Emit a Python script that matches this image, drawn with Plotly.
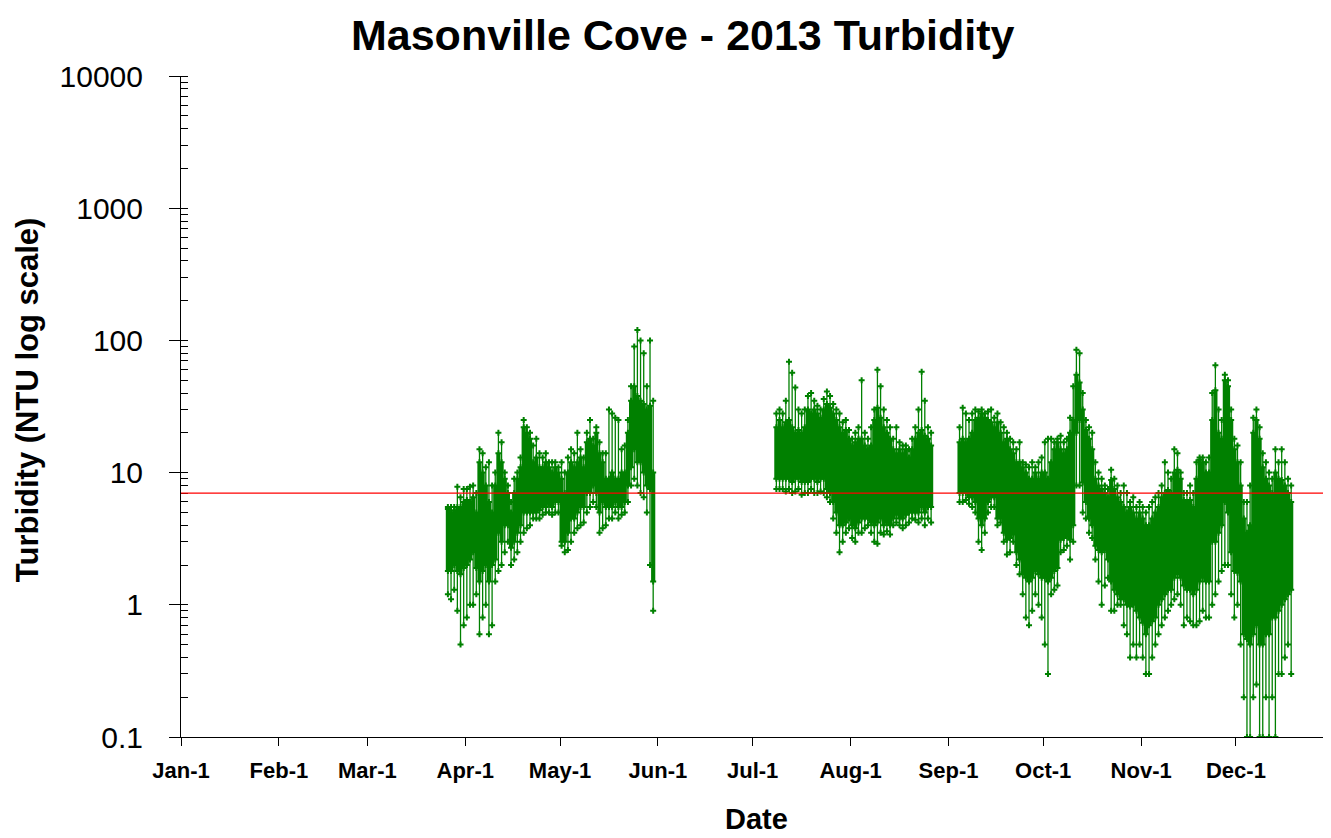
import pandas as pd
import plotly.graph_objects as go

TITLE = "Masonville Cove - 2013 Turbidity"
Y_TITLE = "Turbidity (NTU log scale)"
X_TITLE = "Date"
THRESHOLD = 7.0

MONTH_TICKS = ["2013-01-01", "2013-02-01", "2013-03-01", "2013-04-01", "2013-05-01", "2013-06-01",
               "2013-07-01", "2013-08-01", "2013-09-01", "2013-10-01", "2013-11-01", "2013-12-01"]
MONTH_LABELS = ["Jan-1", "Feb-1", "Mar-1", "Apr-1", "May-1", "Jun-1",
                "Jul-1", "Aug-1", "Sep-1", "Oct-1", "Nov-1", "Dec-1"]
Y_TICKS = [0.1, 1, 10, 100, 1000, 10000]
Y_LABELS = ["0.1", "1", "10", "100", "1000", "10000"]

# ---- Daily readings (min, dense-low, dense-high, max) ----
SEG1_START = "2013-03-26"
SEG1_LO = [1.2, 1.1, 1.3, 0.9, 0.5, 0.7, 0.8, 1.0, 1.0, 1.2,
           0.6, 0.8, 1.0, 0.6, 0.7, 1.5, 1.8, 2.0, 2.5, 3.0,
           2.0, 2.2, 2.5, 3.0, 3.5, 3.8, 4.0, 4.5, 4.5, 4.5,
           4.8, 5.0, 5.0, 4.8, 5.0, 5.0, 2.8, 2.5, 2.6, 3.0,
           3.5, 3.8, 4.0, 4.2, 5.0, 5.5, 6.0, 5.5, 3.5, 3.8,
           4.0, 4.5, 4.5, 5.0, 4.5, 4.8, 5.0, 6.0, 8.0, 9.0,
           8.0, 7.0, 6.5, 5.0, 2.0, 0.9]
SEG1_QLO = [1.8, 1.8, 2.0, 1.8, 1.7, 1.9, 2.0, 2.2, 2.5, 1.9,
            1.5, 1.8, 2.0, 1.5, 2.0, 2.2, 3.5, 3.0, 4.0, 4.0,
            2.7, 3.0, 3.5, 4.0, 5.0, 5.0, 5.0, 5.0, 5.0, 5.2,
            5.5, 5.5, 5.8, 5.5, 6.0, 6.0, 3.0, 3.0, 3.5, 4.5,
            4.5, 5.0, 5.5, 5.5, 7.0, 7.0, 8.0, 7.0, 5.0, 6.0,
            5.5, 5.5, 5.5, 6.0, 5.5, 5.5, 6.0, 8.0, 11, 15,
            12, 12, 10, 8.0, 7.5, 1.5]
SEG1_QHI = [5.3, 5.0, 5.2, 5.5, 5.5, 6.0, 6.2, 6.0, 6.5, 5.0,
            12, 10, 8.0, 6.0, 5.0, 8.0, 14, 12, 9.0, 7.0,
            5.0, 7.0, 9.0, 11, 22, 20, 18, 12, 13, 11,
            11, 12, 11, 10, 11, 10, 9.0, 7.0, 10, 12,
            11, 12, 13, 11, 17, 18, 16, 20, 14, 12,
            9.0, 9.0, 10, 9.0, 9.0, 10, 10, 20, 35, 45,
            38, 35, 33, 30, 32, 10]
SEG1_HI = [5.5, 5.5, 5.5, 7.8, 6.5, 7.5, 7.5, 7.8, 8.0, 7.0,
           15, 14, 11, 12, 8.0, 10, 20, 17, 10, 8.0,
           6.0, 9.0, 10, 13, 25, 22, 20, 16, 18, 14,
           13, 14, 12, 12, 12, 11, 12, 10, 13, 15,
           14, 20, 15, 13, 20, 25, 18, 22, 17, 14,
           14, 30, 28, 26, 25, 15, 16, 25, 45, 90,
           120, 100, 80, 45, 100, 35]

SEG2_START = "2013-07-08"
SEG2_LO = [7.5, 7.5, 7.5, 7.2, 7.5, 7.0, 7.2, 7.5, 6.8, 7.0,
           7.0, 7.5, 7.0, 7.0, 7.2, 7.0, 6.5, 6.0, 4.5, 3.5,
           2.5, 3.0, 3.5, 3.8, 3.2, 3.0, 3.5, 3.5, 3.8, 4.0,
           3.5, 3.0, 2.9, 3.5, 3.4, 3.6, 3.4, 4.0, 4.2, 4.0,
           3.8, 4.0, 4.2, 4.5, 4.4, 4.2, 4.5, 4.0, 4.5, 4.2]
SEG2_QLO = [9, 9, 9, 9, 9, 8.5, 9, 9, 8.5, 8.5,
            8.5, 9, 9, 8.5, 9, 9, 7.5, 7.0, 6.0, 5.0,
            4.0, 4.0, 4.2, 4.5, 4.0, 3.8, 4.2, 4.5, 4.5, 4.5,
            4.2, 4.0, 4.2, 4.5, 4.0, 4.2, 4.0, 4.5, 4.8, 4.5,
            4.5, 4.8, 5.0, 5.0, 5.0, 5.0, 5.5, 5.0, 5.5, 5.5]
SEG2_QHI = [22, 25, 22, 24, 25, 22, 20, 21, 20, 22,
            30, 28, 30, 28, 26, 30, 33, 31, 28, 25,
            22, 20, 21, 18, 16, 17, 18, 18, 16, 15,
            16, 25, 31, 26, 22, 20, 18, 15, 14, 15,
            14, 15, 13, 15, 18, 20, 21, 19, 18, 16]
SEG2_HI = [28, 30, 28, 35, 69, 57, 44, 30, 28, 30,
           38, 40, 35, 32, 30, 36, 41, 38, 33, 30,
           28, 24, 25, 21, 18, 20, 22, 50, 20, 18,
           22, 30, 60, 45, 30, 25, 22, 18, 22, 17,
           16, 16, 15, 18, 22, 30, 58, 35, 22, 20]

SEG3_START = "2013-09-04"
SEG3_LO = [6.0, 6.0, 6.2, 5.8, 5.5, 5.0, 3.0, 2.6, 3.5, 5.0,
           5.5, 5.5, 4.0, 4.2, 3.0, 2.4, 2.5, 3.0, 2.0, 1.7,
           1.2, 0.8, 0.7, 0.9, 1.2, 1.0, 0.8, 0.5, 0.3, 1.2,
           1.3, 1.4, 2.5, 2.6, 2.8, 2.2, 3.0, 8.0, 8.0, 5.0,
           4.5, 3.5, 3.2, 2.2, 1.5, 1.0, 1.4, 1.6, 0.9, 0.9,
           1.0, 1.0, 0.7, 0.6, 0.4, 0.5, 0.4, 0.5, 0.4, 0.3,
           0.3, 0.4, 0.5, 0.6, 0.7, 0.8, 0.9, 1.0, 1.1, 1.2,
           1.0, 0.7, 0.8, 0.75, 0.7, 0.7, 0.75, 0.9, 0.8, 0.8,
           1.0, 1.2, 1.5, 1.8, 2.0, 2.0, 1.2, 0.8, 1.0, 0.5,
           0.2, 0.1, 0.1, 0.2, 0.25, 0.1, 0.1, 0.2, 0.1, 0.2,
           0.1, 0.3, 0.3, 0.4, 0.5, 0.3]
SEG3_QLO = [7.0, 7.0, 7.0, 6.5, 6.5, 6.0, 4.5, 4.0, 4.5, 6.0,
            6.5, 6.5, 4.5, 4.5, 3.5, 3.1, 3.2, 3.4, 2.5, 2.2,
            1.7, 1.6, 1.5, 1.6, 1.8, 1.7, 1.6, 1.6, 1.5, 1.6,
            1.8, 1.9, 3.1, 3.2, 3.3, 3.1, 4.0, 20, 25, 8.4,
            6.0, 4.5, 4.0, 2.8, 2.6, 2.5, 2.6, 2.2, 1.5, 1.3,
            1.2, 1.1, 1.1, 1.0, 0.97, 1.0, 0.9, 0.8, 0.73, 0.6,
            0.7, 0.75, 0.8, 1.0, 1.1, 1.2, 1.3, 1.3, 1.6, 1.7,
            1.6, 1.4, 1.3, 1.3, 1.2, 1.3, 1.5, 1.6, 1.5, 1.5,
            3.0, 3.0, 3.5, 4.0, 6.0, 5.0, 2.5, 1.8, 1.75, 1.5,
            0.6, 0.55, 0.5, 0.6, 0.7, 0.5, 0.5, 0.6, 0.6, 0.8,
            0.8, 0.9, 1.0, 1.1, 1.2, 1.3]
SEG3_QHI = [17, 18, 17, 18, 20, 25, 26, 28, 26, 25,
            24, 22, 24, 20, 17, 18, 15, 14, 12, 12,
            11, 10, 9, 9, 10, 9, 10, 10, 9, 12,
            15, 17, 15, 14, 15, 20, 25, 55, 48, 30,
            21, 18, 15, 9, 8, 7.5, 7, 6.5, 8.8, 7.5,
            6.5, 6, 5.5, 5.0, 5.5, 5.0, 4.5, 5.0, 4.5, 4.0,
            4.0, 4.5, 5.0, 5.5, 6.5, 7.0, 7.4, 7.0, 10, 10.5,
            9, 6.2, 6.0, 6.2, 5.5, 9, 12.5, 12, 10, 10,
            25, 42, 20, 18, 50, 45, 25, 15, 12, 8,
            4.5, 3.5, 4, 20, 25, 18, 11, 9, 8, 7,
            10, 9, 8.8, 8, 7, 6]
SEG3_HI = [22, 31, 28, 25, 28, 30, 29, 30, 28, 29,
           30, 26, 28, 24, 22, 20, 18, 17, 15, 17,
           12, 11.5, 11, 12, 11, 12, 13, 17, 18, 18,
           17, 18, 19, 17, 18, 26, 45, 85, 80, 40,
           25, 22, 20, 12, 10, 9, 8, 7.5, 10.5, 9,
           8, 7, 8, 7, 6, 6.5, 5.5, 6, 5.5, 5.0,
           5.5, 6, 6.5, 7, 8, 12, 10, 9, 15, 14,
           10, 7, 7, 8, 7, 12, 13, 13, 12, 13,
           40, 65, 30, 25, 55, 50, 30, 18, 16, 12,
           6, 6, 8, 26, 30, 22, 14, 12, 10, 9,
           15, 12, 15, 12, 9, 8]

SEGMENTS = [
    (SEG1_START, SEG1_LO, SEG1_QLO, SEG1_QHI, SEG1_HI),
    (SEG2_START, SEG2_LO, SEG2_QLO, SEG2_QHI, SEG2_HI),
    (SEG3_START, SEG3_LO, SEG3_QLO, SEG3_QHI, SEG3_HI),
]

GREEN = "rgb(0,128,0)"
FONT = "Liberation Sans, Arial, sans-serif"

tail_x, tail_y, core_x, core_y, pt_x, pt_y = [], [], [], [], [], []
for start, lo, qlo, qhi, hi in SEGMENTS:
    days = pd.date_range(start, periods=len(lo), freq="D") + pd.Timedelta(hours=12)
    for d, a, b, c, e in zip(days, lo, qlo, qhi, hi):
        tail_x += [d, d, None]
        tail_y += [a, e, None]
        core_x += [d, d, None]
        core_y += [b, c, None]
        pt_x += [d, d, d, d]
        pt_y += [a, b, c, e]

fig = go.Figure()
fig.add_trace(go.Scatter(x=tail_x, y=tail_y, mode="lines",
                         line=dict(color=GREEN, width=1.3), hoverinfo="skip", showlegend=False))
fig.add_trace(go.Scatter(x=core_x, y=core_y, mode="lines",
                         line=dict(color=GREEN, width=4.2), hoverinfo="skip", showlegend=False))
fig.add_trace(go.Scatter(x=pt_x, y=pt_y, mode="markers",
                         marker=dict(symbol="cross", size=5, color=GREEN, line=dict(width=0)),
                         showlegend=False))

fig.add_shape(type="line", xref="paper", x0=0, x1=1, yref="y", y0=THRESHOLD, y1=THRESHOLD,
              line=dict(color="red", width=1.3))

minor_vals = []
for dec in [0.1, 1, 10, 100, 1000]:
    minor_vals += [dec * k for k in range(1, 10)]
minor_vals.append(10000)

# The page body has an 8px margin, so the figure is 8px smaller than the window
fig.update_layout(
    width=1323, height=830,
    paper_bgcolor="white", plot_bgcolor="white",
    margin=dict(l=173, r=6, t=68, b=101),
    font=dict(family=FONT, color="black"),
    title=dict(text="<b>" + TITLE + "</b>", x=0.510, xanchor="center", xref="container",
               y=0.9675, yanchor="middle", yref="container",
               font=dict(size=43, family=FONT, color="black")),
    xaxis=dict(
        type="date", range=["2013-01-01", "2013-12-29 05:00"],
        tickvals=MONTH_TICKS, ticktext=["<b>" + t + "</b>" for t in MONTH_LABELS],
        ticks="outside", ticklen=8, tickwidth=1, tickcolor="black",
        showline=True, linecolor="black", linewidth=1, showgrid=False, zeroline=False,
        tickfont=dict(size=22, family=FONT), ticklabelstandoff=6,
    ),
    yaxis=dict(
        type="log", range=[-1, 4],
        tickvals=Y_TICKS, ticktext=Y_LABELS,
        ticks="outside", ticklen=11, tickwidth=1, tickcolor="black",
        showline=True, linecolor="black", linewidth=1, showgrid=False, zeroline=False,
        tickfont=dict(size=30, family=FONT), ticklabelstandoff=20,
        minor=dict(tickvals=minor_vals, ticks="inside", ticklen=7, tickcolor="black",
                   tickwidth=1, showgrid=False),
    ),
    annotations=[
        dict(text="<b>" + X_TITLE + "</b>", xref="paper", yref="paper", x=0.503, y=-0.124,
             xanchor="center", yanchor="middle", showarrow=False, font=dict(size=29, family=FONT)),
        dict(text="<b>" + Y_TITLE + "</b>", xref="paper", yref="paper", x=-0.1335, y=0.51,
             xanchor="center", yanchor="middle", textangle=-90, showarrow=False,
             font=dict(size=31, family=FONT)),
    ],
)

fig.write_html("out.html")
